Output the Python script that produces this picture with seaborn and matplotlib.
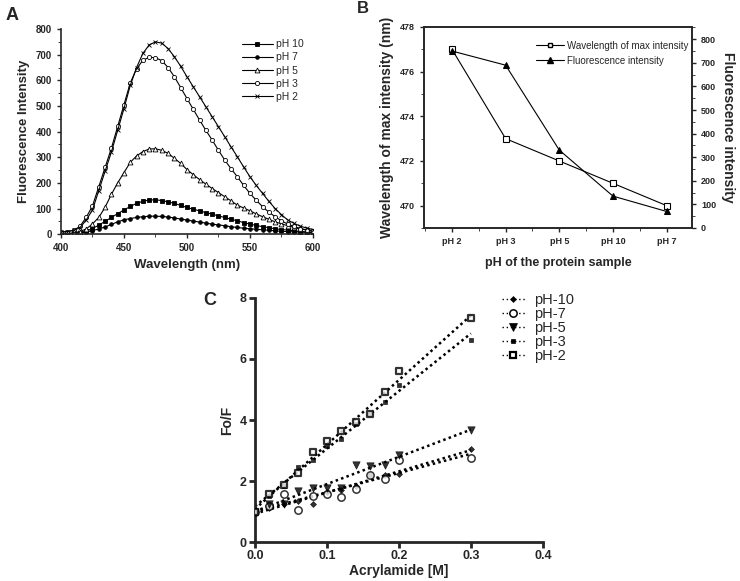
import numpy as np
import pandas as pd
import seaborn as sns
import matplotlib.pyplot as plt
from matplotlib.lines import Line2D
from matplotlib.ticker import MultipleLocator

# ---- Panel A: emission spectra (values read every 5 nm) ----
wavelength = list(range(400, 605, 5))
ph10 = [1, 2, 3, 6, 12, 22, 35, 50, 65, 80, 94, 108, 120, 128, 133, 134, 131, 126, 120, 112,
        104, 97, 91, 84, 78, 71, 65, 58, 52, 45, 39, 34, 29, 25, 21, 18, 16, 13, 10, 9, 8]
ph7 = [1, 1, 2, 4, 8, 14, 20, 28, 38, 48, 56, 61, 65, 68, 70, 70, 69, 67, 63, 59,
       55, 51, 47, 43, 39, 36, 33, 29, 26, 23, 21, 19, 17, 15, 13, 11, 10, 9, 8, 7, 6]
ph5 = [2, 3, 5, 10, 20, 40, 65, 105, 155, 200, 240, 280, 305, 322, 332, 333, 327, 315, 296, 276,
       252, 232, 213, 195, 178, 162, 146, 130, 113, 102, 91, 79, 68, 58, 48, 40, 33, 26, 20, 16, 13]
ph3 = [8, 10, 15, 30, 65, 110, 185, 260, 335, 420, 505, 590, 645, 678, 690, 688, 677, 650, 614, 572,
       529, 487, 445, 405, 367, 327, 289, 255, 224, 190, 159, 132, 107, 86, 68, 52, 39, 30, 22, 17, 13]
ph2 = [9, 10, 15, 25, 55, 94, 170, 245, 320, 405, 490, 580, 650, 705, 738, 750, 745, 724, 692, 655,
       614, 575, 536, 497, 458, 419, 380, 340, 302, 262, 224, 190, 159, 128, 100, 76, 55, 42, 31, 24, 18]
spectra_labels = ["pH 10", "pH 7", "pH 5", "pH 3", "pH 2"]

# ---- Panel B ----
ph_samples = ["pH 2", "pH 3", "pH 5", "pH 10", "pH 7"]
lambda_max = [477, 473, 472, 471, 470]
max_intensity = [750, 690, 330, 135, 70]

# ---- Panel C: Stern-Volmer ----
acrylamide = [0.0, 0.02, 0.04, 0.06, 0.08, 0.10, 0.12, 0.14, 0.16, 0.18, 0.20, 0.30]
fo_ph10 = [1.0, 1.12, 1.26, 1.34, 1.26, 1.63, 1.72, 1.83, 2.2, 2.2, 2.24, 3.06]
fo_ph7 = [1.0, 1.19, 1.56, 1.06, 1.5, 1.58, 1.47, 1.74, 2.2, 2.08, 2.7, 2.75]
fo_ph5 = [1.0, 1.26, 1.26, 1.67, 1.78, 1.78, 1.78, 2.51, 2.48, 2.54, 2.84, 3.68]
fo_ph3 = [1.0, 1.5, 1.85, 2.47, 2.7, 3.15, 3.39, 3.88, 4.2, 4.6, 5.15, 6.62]
fo_ph2 = [1.0, 1.56, 1.88, 2.25, 2.95, 3.31, 3.64, 3.93, 4.21, 4.93, 5.6, 7.33]
quench_labels = ["pH-10", "pH-7", "pH-5", "pH-3", "pH-2"]

sns.set_style("ticks")
plt.rcParams['font.family'] = ['Liberation Sans', 'DejaVu Sans']
plt.rcParams['xtick.direction'] = 'out'
plt.rcParams['ytick.direction'] = 'out'

fig = plt.figure(figsize=(7.4, 5.81), dpi=100)

# ================= Panel A =================
axA = fig.add_axes([0.0824, 0.597, 0.3405, 0.353])
spec_df = pd.DataFrame({"wl": wavelength, "pH 10": ph10, "pH 7": ph7, "pH 5": ph5,
                        "pH 3": ph3, "pH 2": ph2})
styleA = {
    "pH 10": dict(marker='s', mfc='black', ms=3),
    "pH 7": dict(marker='o', mfc='black', ms=2.6),
    "pH 5": dict(marker='^', mfc='white', ms=3.5),
    "pH 3": dict(marker='o', mfc='white', ms=3),
    "pH 2": dict(marker='x', mfc='black', ms=3.5),
}
for lab in spectra_labels:
    st = styleA[lab]
    sns.lineplot(data=spec_df, x="wl", y=lab, ax=axA, color='black', lw=0.8,
                 marker=st['marker'], markersize=st['ms'], markerfacecolor=st['mfc'],
                 markeredgecolor='black', markeredgewidth=0.6, label=lab)
axA.set_xlim(400, 600)
axA.set_ylim(0, 800)
axA.xaxis.set_major_locator(MultipleLocator(50))
axA.xaxis.set_minor_locator(MultipleLocator(25))
axA.yaxis.set_major_locator(MultipleLocator(100))
axA.yaxis.set_minor_locator(MultipleLocator(50))
sns.despine(ax=axA)
axA.set_xlabel("Wavelength (nm)", fontsize=9.5, fontweight='bold')
axA.set_ylabel("Fluorescence Intensity", fontsize=9.5, fontweight='bold')
axA.tick_params(labelsize=7, width=1, length=3)
axA.tick_params(which='minor', length=2)
for t in axA.get_xticklabels() + axA.get_yticklabels():
    t.set_fontweight('bold')
axA.legend(loc='upper left', bbox_to_anchor=(0.7, 0.97), frameon=False, fontsize=7.5,
           handlelength=3, labelspacing=0.3, handletextpad=0.3, borderaxespad=0)
for s in axA.spines.values():
    s.set_linewidth(1.2)

# ================= Panel B =================
axB = fig.add_axes([0.573, 0.6076, 0.362, 0.346])
pos = np.arange(len(ph_samples))
b_df = pd.DataFrame({"pos": pos, "lam": lambda_max, "inten": max_intensity})
sns.lineplot(data=b_df, x="pos", y="lam", ax=axB, color='black', lw=0.8, marker='s',
             markersize=4, markerfacecolor='white', markeredgecolor='black',
             markeredgewidth=0.8, legend=False)
axB.set_xlim(-0.52, 4.47)
axB.set_ylim(469, 478)
axB.set_xticks(pos)
axB.set_xticklabels(ph_samples)
axB.xaxis.set_minor_locator(MultipleLocator(0.5))
axB.yaxis.set_major_locator(MultipleLocator(2))
axB.yaxis.set_minor_locator(MultipleLocator(1))
axB.set_xlabel("pH of the protein sample", fontsize=9, fontweight='bold', labelpad=8)
axB.set_ylabel("Wavelength of max intensity (nm)", fontsize=10, fontweight='bold')
axB.tick_params(labelsize=6.5, width=1, length=3)
axB.tick_params(which='minor', length=2)

axB2 = axB.twinx()
sns.lineplot(data=b_df, x="pos", y="inten", ax=axB2, color='black', lw=0.8, marker='^',
             markersize=5, markerfacecolor='black', markeredgecolor='black', legend=False)
axB2.set_ylim(0, 852)
axB2.yaxis.set_major_locator(MultipleLocator(100))
axB2.yaxis.set_minor_locator(MultipleLocator(50))
axB2.set_ylabel("Fluorescence intensity", fontsize=10, fontweight='bold', rotation=270,
                labelpad=14)
axB2.tick_params(labelsize=6.5, width=1, length=3)
axB2.tick_params(which='minor', length=2)
for t in (axB.get_xticklabels() + axB.get_yticklabels() + axB2.get_yticklabels()):
    t.set_fontweight('bold')
for s in list(axB.spines.values()) + list(axB2.spines.values()):
    s.set_linewidth(1.2)
hB = [Line2D([], [], color='black', lw=0.8, marker='s', ms=3.5, mfc='white', mec='black'),
      Line2D([], [], color='black', lw=0.8, marker='^', ms=4.5, mfc='black', mec='black')]
axB2.legend(hB, ["Wavelength of max intensity", "Fluorescence intensity"], loc='upper right',
            bbox_to_anchor=(1.0, 0.95), frameon=False, fontsize=7, handlelength=2.8,
            labelspacing=0.5, handletextpad=0.3, borderaxespad=0)

# ================= Panel C =================
axC = fig.add_axes([0.3446, 0.0671, 0.389, 0.42])
q_df = pd.DataFrame({"conc": acrylamide, "pH-10": fo_ph10, "pH-7": fo_ph7, "pH-5": fo_ph5,
                     "pH-3": fo_ph3, "pH-2": fo_ph2})
styleC = {
    "pH-10": dict(marker='D', fc='black', s=9, lw=0.5),
    "pH-7": dict(marker='o', fc='white', s=28, lw=1.1),
    "pH-5": dict(marker='v', fc='black', s=28, lw=0.5),
    "pH-3": dict(marker='s', fc='black', s=8, lw=0.5),
    "pH-2": dict(marker='s', fc='white', s=20, lw=1.6),
}
handlesC = []
for lab in quench_labels:
    st = styleC[lab]
    sns.regplot(data=q_df, x="conc", y=lab, ax=axC, ci=None, truncate=True,
                marker=st['marker'],
                scatter_kws=dict(s=st['s'], facecolor=st['fc'], edgecolor='black',
                                 linewidths=st['lw'], color='black', zorder=3),
                line_kws=dict(color='black', ls=(0, (1, 1.3)), lw=1.8))
    handlesC.append(Line2D([], [], color='black', ls=(0, (1, 2)), lw=1, marker=st['marker'],
                           ms=np.sqrt(st['s']), mfc=st['fc'], mec='black',
                           mew=st['lw']))
axC.set_xlim(0, 0.4)
axC.set_ylim(0, 8)
axC.xaxis.set_major_locator(MultipleLocator(0.1))
axC.yaxis.set_major_locator(MultipleLocator(2))
axC.xaxis.set_major_formatter(plt.FormatStrFormatter('%.1f'))
sns.despine(ax=axC)
for s in axC.spines.values():
    s.set_linewidth(2)
axC.tick_params(labelsize=9, width=2, length=4, pad=2)
for t in axC.get_xticklabels() + axC.get_yticklabels():
    t.set_fontweight('bold')
axC.set_xlabel("Acrylamide [M]", fontsize=10, fontweight='bold', labelpad=1)
axC.set_ylabel("Fo/F", fontsize=10, fontweight='bold')
fig.legend(handlesC, quench_labels, loc='upper left', bbox_to_anchor=(0.67, 0.505),
           frameon=False, fontsize=10.5, handlelength=1.6, labelspacing=0.0,
           handletextpad=0.6, borderaxespad=0)

# panel letters
fig.text(0.016, 0.974, "A", fontsize=13, fontweight='bold', va='center', ha='center')
fig.text(0.491, 0.986, "B", fontsize=12, fontweight='bold', va='center', ha='center')
fig.text(0.284, 0.483, "C", fontsize=13, fontweight='bold', va='center', ha='center')

fig.savefig("out.png", dpi=100)
